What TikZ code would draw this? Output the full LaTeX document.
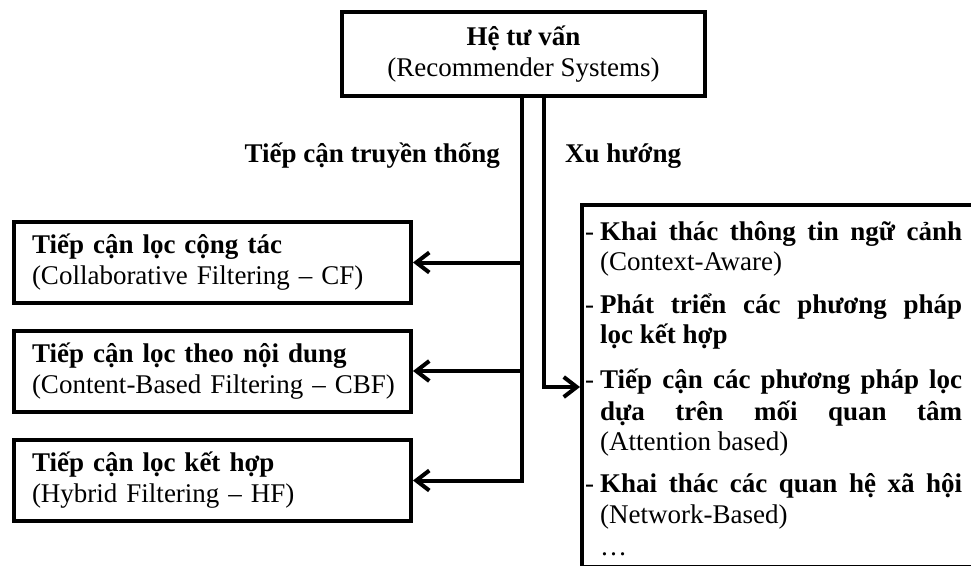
\documentclass[tikz,border=0pt]{standalone}
\usepackage{fontspec}
\setmainfont{Liberation Serif}
\usetikzlibrary{arrows.meta}
\begin{document}
\begin{tikzpicture}[x=1pt,y=-1pt,
  box/.style={draw, line width=4pt, rectangle, inner xsep=18pt, inner ysep=0pt,
    align=left, font=\fontsize{27}{31}\selectfont},
  lbox/.style={box, minimum width=397pt, minimum height=81pt, text width=361pt},
  conn/.style={line width=4pt},
  arr/.style={conn, -{Straight Barb[length=13pt,width=20pt]}},
  lbl/.style={font=\fontsize{27}{31}\selectfont\bfseries, inner sep=0pt},
  txt/.style={font=\fontsize{27}{31}\selectfont, inner sep=0pt, anchor=base west}]
\useasboundingbox (0,0) rectangle (971,565);

% top box
\node[box, align=center, minimum width=363pt, minimum height=84pt] (top) at (523.5,54)
  {\textbf{Hệ tư vấn}\\(Recommender Systems)};

% left boxes
\node[lbox] (b1) at (212.5,262.5) {\mbox{\textbf{Tiếp cận lọc cộng tác}}\\\mbox{(Collaborative Filtering -- CF)}};
\node[lbox] (b2) at (212.5,371) {\mbox{\textbf{Tiếp cận lọc theo nội dung}}\\\mbox{(Content-Based Filtering -- CBF)}};
\node[lbox] (b3) at (212.5,480.5) {\mbox{\textbf{Tiếp cận lọc kết hợp}}\\\mbox{(Hybrid Filtering -- HF)}};

% right box (runs off the page)
\node[draw, line width=4pt, rectangle, inner sep=0pt, minimum width=400pt, minimum height=362pt,
  anchor=north west] (rbox) at (580,203) {};

% branch labels
\node[lbl, anchor=base east] (lt) at (500,162) {Tiếp cận truyền thống};
\node[lbl, anchor=base west] (lx) at (565,162) {Xu hướng};

% connectors
\coordinate (vL) at (522,480.5);
\coordinate (vR) at (544,387);
\draw[arr] (top.south -| vL) -- (vL) -- (vL -| b3.east);
\draw[arr] (b1.east -| vL) -- (b1.east);
\draw[arr] (b2.east -| vL) -- (b2.east);
\draw[arr] (top.south -| vR) -- (vR) -- (vR -| rbox.west);

% right box text
\node[txt] (d1) at (585,240) {-};
\node[txt] (t1a) at (600,240) {\makebox[362pt][s]{\bfseries Khai thác thông tin ngữ cảnh}};
\node[txt] (t1b) at (600,270) {(Context-Aware)};
\node[txt] (d2) at (585,313) {-};
\node[txt] (t2a) at (600,313) {\makebox[362pt][s]{\bfseries Phát triển các phương pháp}};
\node[txt] (t2b) at (600,343) {\bfseries lọc kết hợp};
\node[txt] (d3) at (585,388) {-};
\node[txt] (t3a) at (600,388) {\makebox[362pt][s]{\bfseries Tiếp cận các phương pháp lọc}};
\node[txt] (t3b) at (600,420) {\makebox[362pt][s]{\bfseries dựa trên mối quan tâm}};
\node[txt] (t3c) at (600,450) {(Attention based)};
\node[txt] (d4) at (585,492) {-};
\node[txt] (t4a) at (600,492) {\makebox[362pt][s]{\bfseries Khai thác các quan hệ xã hội}};
\node[txt] (t4b) at (600,523) {(Network-Based)};
\node[txt] (t5) at (600,555) {…};
\end{tikzpicture}
\end{document}
